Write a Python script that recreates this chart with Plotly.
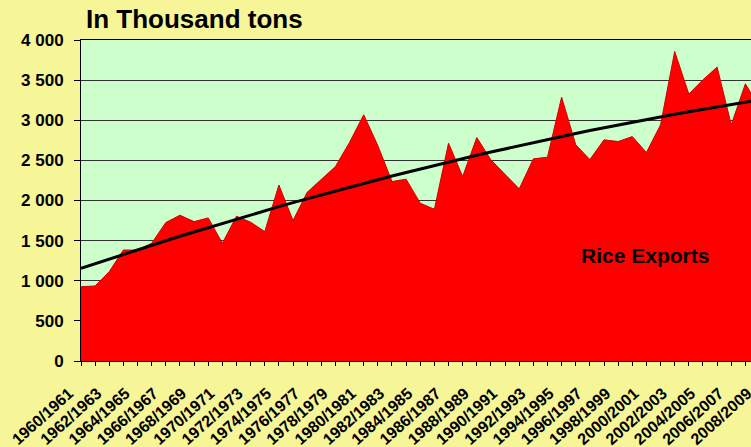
import plotly.graph_objects as go

seasons = [f"{y}/{y+1}" for y in range(1960, 2009)]

exports = [926, 935, 1114, 1384, 1380, 1467, 1725, 1817, 1737, 1783,
           1467, 1804, 1730, 1613, 2193, 1750, 2102, 2268, 2423, 2725,
           3068, 2684, 2236, 2266, 1967, 1891, 2715, 2298, 2785, 2506,
           2319, 2145, 2519, 2540, 3288, 2694, 2510, 2756, 2735, 2797,
           2598, 2943, 3857, 3326, 3504, 3662, 2943, 3454, 3160]

trend = [1154, 1213, 1272, 1330, 1387, 1443, 1499, 1555, 1609, 1663,
         1716, 1769, 1821, 1872, 1923, 1973, 2022, 2071, 2119, 2166,
         2213, 2259, 2305, 2349, 2394, 2437, 2480, 2522, 2563, 2604,
         2644, 2684, 2723, 2761, 2799, 2835, 2872, 2907, 2942, 2977,
         3010, 3043, 3075, 3107, 3138, 3168, 3198, 3227, 3256]

y_ticks = [0, 500, 1000, 1500, 2000, 2500, 3000, 3500, 4000]
y_tick_text = ["0", "500", "1 000", "1 500", "2 000", "2 500", "3 000", "3 500", "4 000"]

title_text = "In Thousand tons"
series_label = "Rice Exports"

idx = list(range(len(seasons)))
x_tick_text = [s if i % 2 == 0 else "" for i, s in enumerate(seasons)]

FONT = "Liberation Sans, Arial, sans-serif"

# plot area: 14.14 px per season, left edge at 81 px; the chart is cropped at 751 px
X_MAX = 48.6
FIG_W = int(round(81 + X_MAX * 14.14))

fig = go.Figure()
fig.add_trace(go.Scatter(
    x=idx, y=exports, mode="lines", fill="tozeroy",
    fillcolor="#FF0000", line=dict(color="#D00000", width=1),
    hoverinfo="skip", showlegend=False))
fig.add_trace(go.Scatter(
    x=idx, y=trend, mode="lines",
    line=dict(color="#000000", width=3),
    hoverinfo="skip", showlegend=False))

fig.add_annotation(x=39.9, y=1320, xref="x", yref="y", text=series_label,
                   showarrow=False,
                   font=dict(family=FONT, size=21, color="#000000", weight="bold"))

fig.update_layout(
    width=FIG_W, height=447,
    margin=dict(l=81, r=0, t=40, b=86, autoexpand=False),
    paper_bgcolor="#F6F598",
    plot_bgcolor="#CCFFCC",
    title=dict(text=title_text, x=86/FIG_W, xanchor="left", xref="container",
               y=1-19/447, yanchor="middle", yref="container", pad=dict(l=0, r=0, t=0, b=0),
               font=dict(family=FONT, size=26, color="#000000", weight="bold")),
    xaxis=dict(range=[0, X_MAX], tickvals=idx, ticktext=x_tick_text,
               tickangle=-42, ticks="outside", ticklen=4, tickcolor="#000000",
               showline=True, linecolor="#000000", linewidth=1, mirror=True,
               showgrid=False, zeroline=False, automargin=False,
               ticklabelstandoff=12, ticklabelshift=-12,
               tickfont=dict(family=FONT, size=16, color="#000000", weight="bold")),
    yaxis=dict(range=[0, 4000], tickvals=y_ticks, ticktext=y_tick_text,
               ticks="outside", ticklen=6, tickcolor="#000000",
               showline=True, linecolor="#000000", linewidth=1,
               showgrid=True, gridcolor="#333333", gridwidth=1, zeroline=False,
               automargin=False, ticklabelstandoff=7,
               tickfont=dict(family=FONT, size=17, color="#000000", weight="bold")),
)

fig.write_html(
    "out.html",
    config={"displayModeBar": False},
    post_script=("document.documentElement.style.overflow='hidden';"
                 "document.body.style.overflow='hidden';"
                 "document.body.style.margin='0';document.body.style.padding='0';"),
)
